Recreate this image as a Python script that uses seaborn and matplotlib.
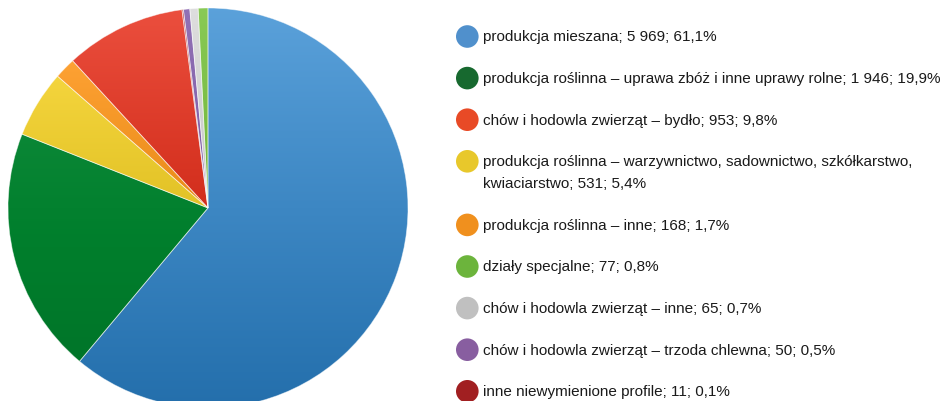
import numpy as np
import matplotlib
matplotlib.use("Agg")
import matplotlib.pyplot as plt
import matplotlib.colors as mcolors
from matplotlib.patches import Circle
import seaborn as sns

# Profile gospodarstw - kolejnosc jak w legendzie
categories = [
    "produkcja mieszana",
    "produkcja roślinna – uprawa zbóż i inne uprawy rolne",
    "chów i hodowla zwierząt – bydło",
    "produkcja roślinna – warzywnictwo, sadownictwo, szkółkarstwo,\nkwiaciarstwo",
    "produkcja roślinna – inne",
    "działy specjalne",
    "chów i hodowla zwierząt – inne",
    "chów i hodowla zwierząt – trzoda chlewna",
    "inne niewymienione profile",
]
counts = [5969, 1946, 953, 531, 168, 77, 65, 50, 11]

# kolejnosc wycinkow na kole (zgodnie z ruchem wskazowek od godziny 12)
pie_order = [0, 1, 3, 4, 2, 8, 7, 6, 5]

legend_colors = ["#5090cc", "#17692f", "#e84a26", "#e8c82b", "#f0901e",
                 "#6cb43c", "#c0c0c0", "#885ea0", "#a11f21"]
pie_colors = ["#3d87c3", "#03812f", "#d22e1c", "#e2c226", "#e98a18",
              "#70b43a", "#c6c6c6", "#7c5aa2", "#a01e20"]

total = sum(counts)
percents = [100 * c / total for c in counts]


def fmt_count(n):
    return f"{n:,}".replace(",", " ")


def fmt_pct(p):
    return f"{p:.1f}%".replace(".", ",")


def gradient(color, n=256):
    # jasniej u gory, ciemniej i bardziej nasycone u dolu
    h, s, v = mcolors.rgb_to_hsv(mcolors.to_rgb(color))
    t = np.linspace(0, 1, n)
    ss = np.clip(s * (0.85 + 0.3 * t), 0, 1)
    vv = np.clip(v * (1.12 - 0.24 * t), 0, 1)
    hsv = np.stack([np.full(n, h), ss, vv], axis=-1)
    return mcolors.hsv_to_rgb(hsv).reshape(n, 1, 3)


sns.set_theme(style="white")
plt.rcParams["font.family"] = ["Liberation Sans Narrow", "Liberation Sans", "DejaVu Sans"]

W, H = 946, 402
fig = plt.figure(figsize=(W / 100, H / 100), dpi=100)
fig.patch.set_facecolor("white")

# kolo
cx, cy, r = 208, 209, 200
ax = fig.add_axes([(cx - r) / W, (H - cy - r) / H, 2 * r / W, 2 * r / H])
vals = [counts[i] for i in pie_order]
wedges, _ = ax.pie(vals, startangle=90, counterclock=False, radius=1,
                   colors=[pie_colors[i] for i in pie_order])
for w, i in zip(wedges, pie_order):
    w.set_facecolor("none")
    w.set_edgecolor("none")
    img = ax.imshow(gradient(pie_colors[i]), extent=(-1, 1, -1, 1),
                    origin="upper", aspect="auto", zorder=1)
    img.set_clip_path(w)
for w in wedges:
    w.set_edgecolor((1, 1, 1, 0.5))
    w.set_linewidth(0.6)
    w.set_zorder(2)
ax.set_xlim(-1, 1)
ax.set_ylim(-1, 1)
ax.set_aspect("equal")
ax.axis("off")

# legenda
lax = fig.add_axes([0, 0, 1, 1])
lax.set_xlim(0, W)
lax.set_ylim(H, 0)
lax.axis("off")

y = 37.5
for k, label in enumerate(categories):
    lax.add_patch(Circle((467.3, y), 11.3, color=legend_colors[k], lw=0))
    lines = f"{label}; {fmt_count(counts[k])}; {fmt_pct(percents[k])}".split("\n")
    for j, line in enumerate(lines):
        lax.text(483, y + 22 * j, line, fontsize=11, color="#1a1a1a",
                 va="center", ha="left")
    y += 41.6 + 22 * (len(lines) - 1)

fig.savefig("out.png", dpi=100, facecolor="white")
